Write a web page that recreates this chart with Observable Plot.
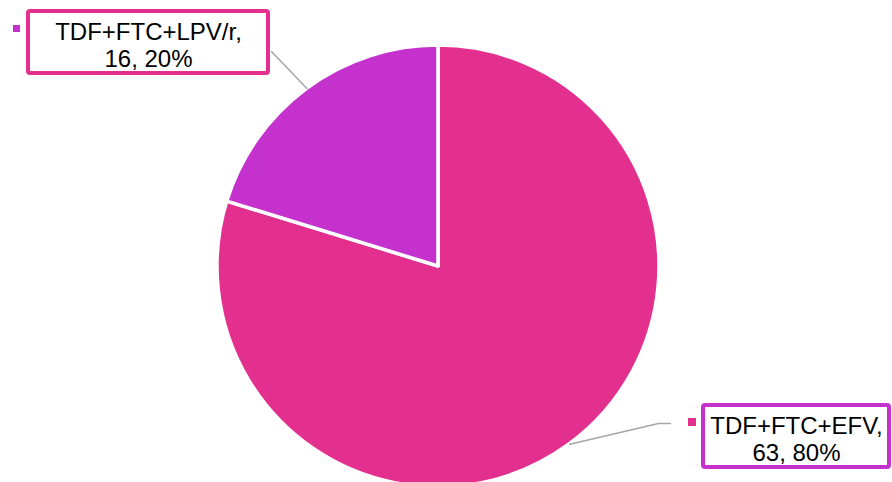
<!DOCTYPE html>
<html><head><meta charset="utf-8">
<script src="https://cdn.jsdelivr.net/npm/d3@7"></script>
<script src="https://cdn.jsdelivr.net/npm/@observablehq/plot@0.6"></script>
<style>body{margin:0;background:#fff;overflow:hidden}</style>
</head><body><div id="chart"></div>
<script>
const regimens = ["TDF+FTC+EFV", "TDF+FTC+LPV/r"];
const counts = [63, 16];
const sliceColors = ["#E3308F", "#C431CC"];
const boxBorderColors = ["#C431CC", "#E3308F"];

const W = 892, H = 482, cx = 438, cy = 266, R = 221;
const total = d3.sum(counts);
const data = regimens.map((name, i) => ({
  name, value: counts[i], color: sliceColors[i], border: boxBorderColors[i],
  pct: Math.round(counts[i] / total * 100)
}));
const arcs = d3.pie().value(d => d.value).sort(null)(data);
const arcGen = d3.arc().innerRadius(0).outerRadius(R);
const edgeGen = d3.arc().innerRadius(R).outerRadius(R);

// label layout (positions of boxes, markers, leader bends)
const layout = [
  {x1: 703, x2: 889, y1: 405, y2: 467, mx1: 688, mx2: 696, my1: 418, my2: 426, bends: [[658, 423], [670, 423]]},
  {x1: 28, x2: 268, y1: 11, y2: 73, mx1: 13, mx2: 20, my1: 25, my2: 32, bends: [[271, 51]]}
];
const labels = arcs.map((a, i) => {
  const [ex, ey] = edgeGen.centroid(a);
  const L = layout[i];
  return {...a.data, ...L, cx: (L.x1 + L.x2) / 2, cy: (L.y1 + L.y2) / 2 + 2,
    leader: [[cx + ex, cy + ey], ...L.bends]};
});
const leaderPts = labels.flatMap((l, i) => l.leader.map(([x, y]) => ({x, y, k: i})));

function pieMark() {
  const g = d3.create("svg:g").attr("transform", `translate(${cx},${cy})`);
  g.selectAll("path").data(arcs).join("path")
    .attr("d", arcGen)
    .attr("fill", d => d.data.color)
    .attr("stroke", "#fff")
    .attr("stroke-width", 3.5)
    .attr("stroke-linejoin", "round");
  return g.node();
}

const chart = Plot.plot({
  width: W, height: H, margin: 0,
  style: {fontFamily: "'Liberation Sans', Arial, sans-serif", background: "#fff"},
  x: {type: "identity", axis: null},
  y: {type: "identity", axis: null},
  marks: [
    pieMark,
    Plot.line(leaderPts, {x: "x", y: "y", z: "k", stroke: "#a6a6a6", strokeWidth: 1.5}),
    Plot.rect(labels, {x1: "x1", x2: "x2", y1: "y1", y2: "y2", fill: "#fff", stroke: "border", strokeWidth: 4, rx: 2}),
    Plot.rect(labels, {x1: "mx1", x2: "mx2", y1: "my1", y2: "my2", fill: "color"}),
    Plot.text(labels, {x: "cx", y: "cy", text: d => `${d.name},\n${d.value}, ${d.pct}%`,
      fontSize: 24, lineHeight: 27 / 24, fill: "#000", fontFamily: "'Liberation Sans', Arial, sans-serif"})
  ]
});
document.getElementById("chart").appendChild(chart);
</script>
</body></html>
